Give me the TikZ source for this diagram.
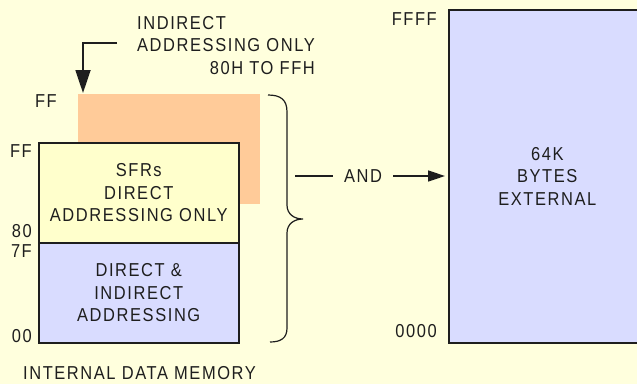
\documentclass[tikz,border=0pt]{standalone}
\usepackage{fontspec}
\setmainfont{Liberation Sans}[FakeStretch=0.88, LetterSpace=8.5]
\usetikzlibrary{arrows.meta}
\definecolor{bg}{HTML}{FFFFDD}
\definecolor{sfrc}{HTML}{FFFFCC}
\definecolor{lav}{HTML}{D9DCFF}
\definecolor{peach}{HTML}{FFCB99}
\definecolor{ink}{HTML}{1E1E1E}
\begin{document}
\begin{tikzpicture}[x=1pt,y=-1pt,
  txt/.style={font=\fontsize{18.7}{22.5}\selectfont, text=ink, inner sep=0pt},
  membox/.style={draw=ink, line width=1.5pt, inner sep=0pt, align=center,
    font=\fontsize{18.7}{22.5}\selectfont, text=ink},
  lbl/.style={txt, anchor=east},
  conn/.style={draw=ink, line width=1.6pt}]
\fill[bg] (0,0) rectangle (637,384);
\useasboundingbox (0,0) rectangle (637,384);
\clip (0,0) rectangle (637,384);
% indirect-only upper area
\node[fill=peach, minimum width=182pt, minimum height=110pt, inner sep=0pt,
  anchor=north west] (ind) at (78,94) {};
% internal memory boxes
\node[membox, fill=sfrc, minimum width=200pt, minimum height=100pt,
  anchor=north west] (sfr) at (38,142) {SFRs\\DIRECT\\ADDRESSING ONLY};
\node[membox, fill=lav, minimum width=200pt, minimum height=100pt,
  anchor=north west] (dir) at (38,242) {DIRECT \&\\INDIRECT\\ADDRESSING};
% external memory
\node[membox, fill=lav, minimum width=197pt, minimum height=333pt,
  anchor=north west] (ext) at (448,9) {64K\\BYTES\\EXTERNAL};
% address labels
\node[lbl] (ffa) at (57,101.5) {FF};
\node[lbl] (ffb) at (32,151.5) {FF};
\node[lbl] (l80) at (32,231.5) {80};
\node[lbl] (l7f) at (32,251) {7F};
\node[lbl] (l00) at (32,336) {00};
\node[lbl] (ffff) at (437,19.5) {FFFF};
\node[lbl] (lzero) at (437,331.5) {0000};
% captions
\node[txt] (cap) at (139.5,373.5) {INTERNAL DATA MEMORY};
\node[txt] (note) at (226,47.1) {\begin{tabular}{@{}l@{}}INDIRECT\\ADDRESSING ONLY\\\hfill 80H TO FFH\end{tabular}};
% note arrow
\coordinate (notept) at (117,42.7);
\draw[draw=ink, line width=1.8pt, -{Triangle[length=23pt,width=15pt]}]
  (notept) -| ([xshift=5pt,yshift=1pt]ind.north west);
% brace
\draw[draw=ink, line width=1.2pt] (268,95) .. controls (281,95) and (287,100) .. (287,112)
  -- (287,205) .. controls (287,214) and (294,219) .. (303,219)
  .. controls (294,219) and (287,224) .. (287,233)
  -- (287,328) .. controls (287,338) and (281,342) .. (270,342);
% AND connector
\coordinate (andst) at (295,176);
\node[txt, inner xsep=11pt] (and) at (363,176) {AND};
\draw[conn] (andst) -- (and.west);
\draw[conn, -{Triangle[length=17pt,width=11pt]}, shorten >=3pt]
  (and.east) -- (and.east -| ext.west);
\end{tikzpicture}
\end{document}
